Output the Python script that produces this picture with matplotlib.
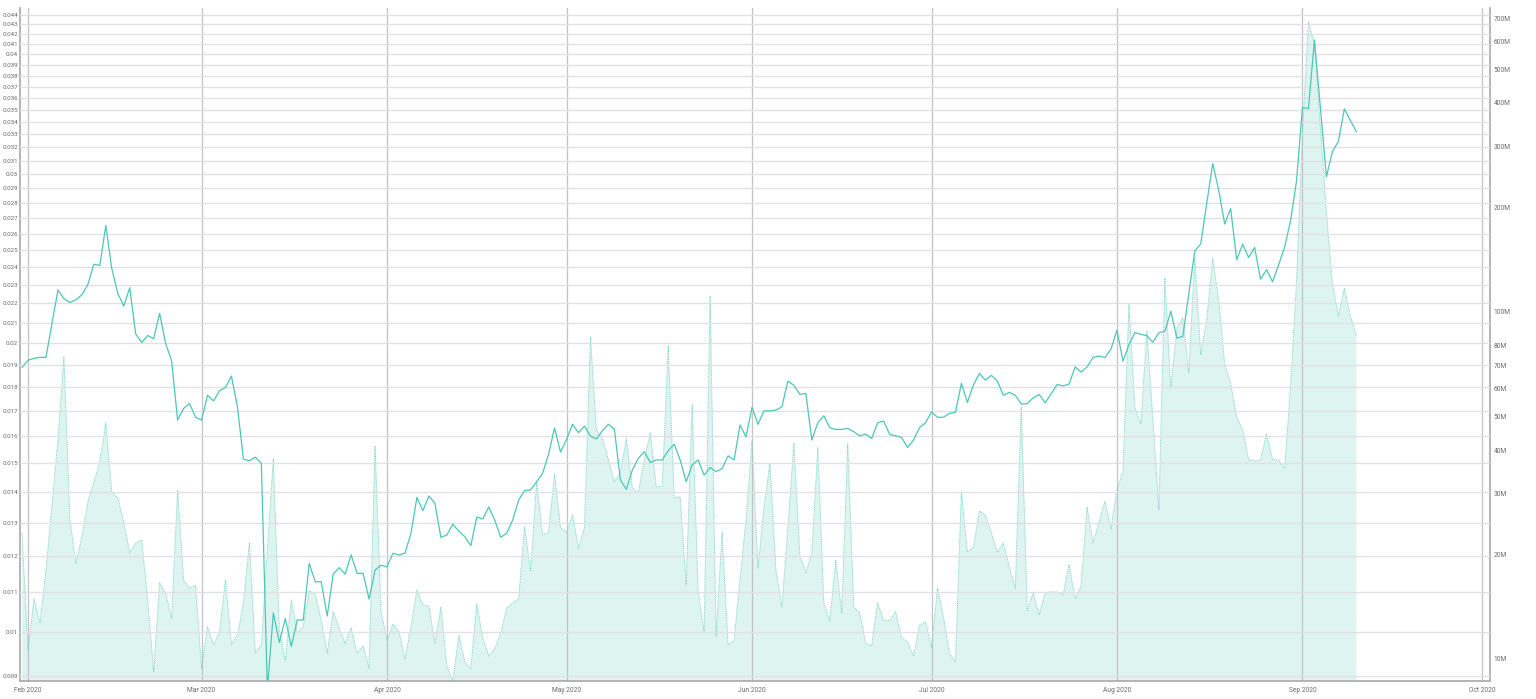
import matplotlib
matplotlib.use('Agg')
import matplotlib.pyplot as plt
import matplotlib.dates as mdates
import matplotlib.ticker as mticker
import pandas as pd

plt.rcParams['font.family'] = ['Roboto', 'DejaVu Sans']

start_date = '2020-01-31'

# daily closing price (Jan 31 .. Sep 10, 2020)
price = [
    0.01887,
    # Feb
    0.01920, 0.01928, 0.01933, 0.01933, 0.02097, 0.02272, 0.02225, 0.02205, 0.02219, 0.02246,
    0.02302, 0.02417, 0.02410, 0.02652, 0.02392, 0.02254, 0.02186, 0.02284, 0.02044, 0.02003,
    0.02037, 0.02021, 0.02148, 0.01998, 0.01917, 0.01663, 0.01710, 0.01730, 0.01674,
    # Mar
    0.01663, 0.01765, 0.01741, 0.01784, 0.01798, 0.01848, 0.01717, 0.01514, 0.01508, 0.01521,
    0.01499, 0.00870, 0.01047, 0.00975, 0.01033, 0.00966, 0.01029, 0.01029, 0.01179, 0.01128,
    0.01128, 0.01039, 0.01149, 0.01167, 0.01149, 0.01203, 0.01151, 0.01151, 0.01082, 0.01160, 0.01174,
    # Apr
    0.01169, 0.01208, 0.01203, 0.01208, 0.01267, 0.01381, 0.01338, 0.01386, 0.01362, 0.01255,
    0.01262, 0.01295, 0.01274, 0.01257, 0.01230, 0.01318, 0.01311, 0.01350, 0.01308, 0.01255,
    0.01267, 0.01308, 0.01372, 0.01404, 0.01406, 0.01434, 0.01463, 0.01532, 0.01632, 0.01540,
    # May
    0.01587, 0.01646, 0.01613, 0.01639, 0.01600, 0.01589, 0.01621, 0.01646, 0.01627, 0.01440,
    0.01408, 0.01475, 0.01517, 0.01541, 0.01502, 0.01511, 0.01511, 0.01545, 0.01569, 0.01511,
    0.01434, 0.01493, 0.01511, 0.01457, 0.01484, 0.01469, 0.01480, 0.01526, 0.01511, 0.01643, 0.01597,
    # Jun
    0.01714, 0.01646, 0.01700, 0.01700, 0.01703, 0.01717, 0.01826, 0.01807, 0.01769, 0.01772,
    0.01585, 0.01652, 0.01680, 0.01632, 0.01626, 0.01626, 0.01630, 0.01617, 0.01601, 0.01608,
    0.01591, 0.01652, 0.01659, 0.01607, 0.01601, 0.01595, 0.01557, 0.01585, 0.01633, 0.01652,
    # Jul
    0.01696, 0.01674, 0.01674, 0.01690, 0.01694, 0.01816, 0.01735, 0.01808, 0.01860, 0.01830,
    0.01851, 0.01827, 0.01765, 0.01777, 0.01765, 0.01728, 0.01730, 0.01754, 0.01768, 0.01733,
    0.01772, 0.01811, 0.01805, 0.01813, 0.01889, 0.01866, 0.01889, 0.01933, 0.01939, 0.01932, 0.01972,
    # Aug
    0.02063, 0.01915, 0.01993, 0.02051, 0.02043, 0.02036, 0.02004, 0.02051, 0.02058, 0.02159,
    0.02025, 0.02032, 0.02252, 0.02495, 0.02538, 0.02798, 0.03077, 0.02888, 0.02662, 0.02762,
    0.02443, 0.02535, 0.02456, 0.02516, 0.02331, 0.02386, 0.02317, 0.02412, 0.02516, 0.02681, 0.02950,
    # Sep
    0.03520, 0.03512, 0.04140, 0.03514, 0.02981, 0.03167, 0.03245, 0.03509, 0.03414, 0.03321,
]

# daily volume in millions
volume_m = [
    23.1,
    # Feb
    10.6, 14.9, 12.7, 18.0, 27.8, 42.8, 74.2, 25.2, 18.9, 22.5,
    28.4, 32.2, 37.0, 47.9, 30.3, 29.1, 24.8, 20.2, 21.6, 22.0,
    14.8, 9.17, 16.6, 15.5, 13.1, 30.7, 16.9, 16.0, 16.3,
    # Mar
    9.42, 12.4, 11.0, 11.9, 16.9, 11.0, 11.7, 14.5, 21.6, 10.4,
    11.0, 20.6, 37.7, 12.1, 9.93, 14.8, 11.9, 12.4, 15.7, 15.4,
    12.9, 10.4, 13.7, 12.3, 11.1, 12.3, 10.4, 10.9, 9.42, 41.1, 13.7,
    # Apr
    11.3, 12.6, 12.0, 10.0, 12.4, 15.8, 14.3, 14.2, 11.1, 14.1,
    9.55, 8.64, 11.7, 9.80, 9.36, 14.4, 11.5, 10.2, 10.7, 11.9,
    14.0, 14.5, 14.9, 24.0, 17.9, 32.4, 22.8, 23.1, 34.1, 23.9,
    # May
    23.1, 26.0, 20.9, 23.9, 84.7, 45.7, 43.1, 37.5, 32.4, 34.4,
    43.1, 31.1, 30.1, 37.5, 44.8, 31.3, 31.5, 79.8, 29.1, 29.3,
    16.3, 54.0, 15.6, 12.0, 111.0, 11.6, 23.2, 11.0, 11.3, 16.9, 25.2,
    # Jun
    42.5, 18.2, 27.4, 36.7, 18.0, 14.1, 24.0, 41.9, 19.9, 17.7,
    20.2, 40.6, 14.5, 12.9, 19.3, 13.6, 41.7, 14.1, 13.6, 11.1,
    10.9, 14.5, 12.9, 12.9, 13.7, 11.5, 11.2, 10.2, 12.5, 12.8,
    # Jul
    10.8, 16.0, 13.2, 10.4, 9.80, 30.3, 20.3, 21.0, 26.7, 26.0,
    23.1, 20.3, 21.6, 18.4, 16.0, 53.2, 13.8, 15.5, 13.4, 15.5,
    15.6, 15.6, 15.3, 18.7, 14.9, 16.2, 27.4, 21.6, 24.8, 28.5, 23.7,
    # Aug
    30.7, 34.6, 105.0, 52.9, 47.6, 88.2, 49.2, 26.9, 125.0, 60.4,
    89.3, 96.1, 66.7, 144.0, 75.2, 94.8, 143.0, 108.0, 70.8, 62.0,
    49.8, 45.7, 37.5, 37.2, 37.5, 44.5, 37.5, 37.5, 35.3, 60.4, 121.0,
    # Sep
    330.0, 685.0, 592.0, 339.0, 194.0, 121.0, 97.4, 117.0, 97.4, 85.3,
]

price_ticks = [round(0.009 + 0.001 * i, 3) for i in range(36)]
volume_ticks_m = [10, 20, 30, 40, 50, 60, 70, 80, 100, 200, 300, 400, 500, 600, 700]
month_ticks = pd.date_range('2020-02-01', '2020-10-01', freq='MS')

dates = pd.date_range(start_date, periods=len(price), freq='D')
volume = [v * 1e6 for v in volume_m]

LINE = '#4cc7b6'
TEXT = '#6a6a6a'

W, H = 1536, 699
fig = plt.figure(figsize=(W / 100, H / 100), dpi=100)
ax_v = fig.add_axes([20 / W, 18 / H, 1470 / W, 673 / H])
ax_p = ax_v.twinx()

# volume area (right axis)
ax_v.set_yscale('log')
ax_v.fill_between(dates, volume, 1e5, color=LINE, alpha=0.18, linewidth=0, zorder=1)
ax_v.plot(dates, volume, color='#78d3c6', lw=0.7, ls=(0, (1, 1)), zorder=2)
ax_v.set_ylim(8.64e6, 7.51e8)
ax_v.yaxis.tick_right()
ax_v.yaxis.set_major_locator(mticker.FixedLocator([t * 1e6 for t in volume_ticks_m]))
ax_v.yaxis.set_major_formatter(mticker.FixedFormatter([f'{t}M' for t in volume_ticks_m]))
ax_v.yaxis.set_minor_locator(mticker.NullLocator())
ax_v.tick_params(axis='y', which='both', length=0, pad=2.5, labelsize=4.8, labelcolor=TEXT,
                 left=False, labelleft=False, right=True, labelright=True)

# x axis
x0 = mdates.date2num(pd.Timestamp('2020-02-01')) - 1.34
x1 = mdates.date2num(pd.Timestamp('2020-10-01')) + 1.34
ax_v.set_xlim(x0, x1)
ax_v.xaxis.set_major_locator(mticker.FixedLocator(mdates.date2num(month_ticks)))
ax_v.xaxis.set_major_formatter(mticker.FixedFormatter([d.strftime('%b %Y') for d in month_ticks]))
ax_v.tick_params(axis='x', length=0, pad=4, labelsize=4.8, labelcolor=TEXT)
ax_v.grid(axis='x', color='#c2c2c2', lw=0.9)
ax_v.grid(axis='y', visible=False)

for s in ['left', 'bottom', 'right']:
    ax_v.spines[s].set_color('#a8a8a8')
    ax_v.spines[s].set_linewidth(1.2)
ax_v.spines['top'].set_visible(False)

# price line (left axis)
ax_p.set_yscale('log')
ax_p.plot(dates, price, color=LINE, lw=0.9, zorder=3)
ax_p.set_ylim(0.00889, 0.0447)
ax_p.yaxis.tick_left()
ax_p.yaxis.set_major_locator(mticker.FixedLocator(price_ticks))
ax_p.yaxis.set_major_formatter(mticker.FixedFormatter([f'{t:g}' for t in price_ticks]))
ax_p.yaxis.set_minor_locator(mticker.NullLocator())
ax_p.tick_params(axis='y', which='both', length=0, pad=1.5, labelsize=4.5, labelcolor=TEXT,
                 right=False, labelright=False, left=True, labelleft=True)
ax_p.grid(axis='y', color='#e1e1e1', lw=1.0)
ax_p.set_axisbelow(True)
for s in ax_p.spines.values():
    s.set_visible(False)

fig.savefig('out.png', dpi=100)
